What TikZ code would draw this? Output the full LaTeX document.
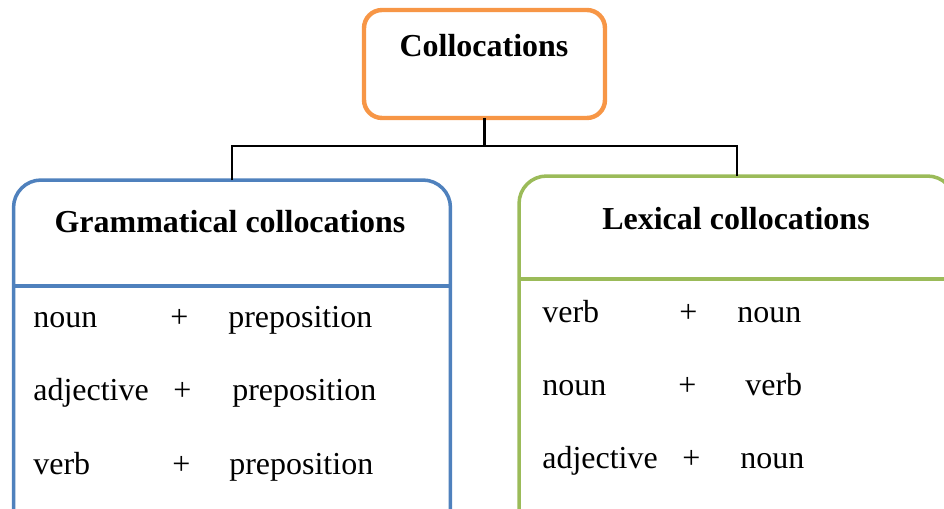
\documentclass[tikz,border=0pt]{standalone}
\usepackage{fontspec}
\setmainfont{Liberation Serif}
\usetikzlibrary{positioning, calc}
\definecolor{rootcolor}{RGB}{247, 150, 70}
\definecolor{gramcolor}{RGB}{79, 129, 189}
\definecolor{lexcolor}{RGB}{155, 187, 89}
\tikzset{
    % Boxes
    basebox/.style={
        draw, line width=2pt, fill=white,
        inner sep=0pt, outer sep=0pt
    },
    rootbox/.style={basebox, draw=rootcolor, line width=2.5pt, rounded corners=0.36cm,
        minimum width=4.82cm, minimum height=2.16cm},
    grambox/.style={basebox, draw=gramcolor, rounded corners=0.55cm,
        minimum width=8.74cm, minimum height=7.6cm},
    lexbox/.style={basebox, draw=lexcolor, rounded corners=0.55cm,
        minimum width=8.72cm, minimum height=7.68cm},
    % Texts
    titletext/.style={font=\fontsize{18.2}{22}\selectfont\bfseries, inner sep=0pt, anchor=base},
    rowtext/.style={font=\fontsize{18.2}{22}\selectfont, inner sep=0pt, anchor=base west},
    % Lines
    connline/.style={draw=black, line width=1.5pt},
}

\begin{document}
\begin{tikzpicture}[x=0.02cm, y=-0.02cm]
\useasboundingbox (0,0) rectangle (944,509);
\clip (0,0) rectangle (944,509);

% ===== Root =====
\node (coll) [rootbox] at (484.5, 64) {};
\node (colltitle) [titletext] at (484, 57) {Collocations};

% ===== Grammatical collocations =====
\node (gram) [grambox] at (232, 370) {};
\node (gramtitle) [titletext] at (230, 233) {Grammatical collocations};
\draw[gramcolor, line width=2pt] (gram.west |- 0,286) -- (gram.east |- 0,286);

\node (gnoun) [rowtext] at (33, 328) {noun};
\node (gplusa) [rowtext] at (170, 328) {+};
\node (gprepa) [rowtext] at (228, 328) {preposition};

\node (gadj) [rowtext] at (33, 401) {adjective};
\node (gplusb) [rowtext] at (173, 401) {+};
\node (gprepb) [rowtext] at (232, 401) {preposition};

\node (gverb) [rowtext] at (33, 475) {verb};
\node (gplusc) [rowtext] at (172, 475) {+};
\node (gprepc) [rowtext] at (229, 475) {preposition};

% ===== Lexical collocations =====
\node (lex) [lexbox] at (737, 368) {};
\node (lextitle) [titletext] at (736, 230) {Lexical collocations};
\draw[lexcolor, line width=2pt] (lex.west |- 0,279) -- (lex.east |- 0,279);

\node (lverb) [rowtext] at (542, 323) {verb};
\node (lplusa) [rowtext] at (679, 323) {+};
\node (lnouna) [rowtext] at (737, 323) {noun};

\node (lnoun) [rowtext] at (542, 396) {noun};
\node (lplusb) [rowtext] at (678, 396) {+};
\node (lverbb) [rowtext] at (745, 396) {verb};

\node (ladj) [rowtext] at (542, 469) {adjective};
\node (lplusc) [rowtext] at (682, 469) {+};
\node (lnounc) [rowtext] at (740, 469) {noun};

% ===== Connectors =====
\coordinate (bar) at (484.5, 146);
\draw[connline] (coll.south) -- (bar);
\draw[connline] (gram.north) |- (bar) -| (lex.north);

\end{tikzpicture}
\end{document}
